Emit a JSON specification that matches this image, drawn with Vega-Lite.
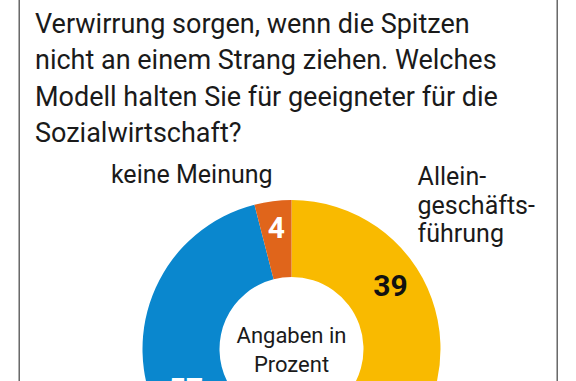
{
  "$schema": "https://vega.github.io/schema/vega-lite/v6.json",
  "width": 538,
  "height": 702,
  "autosize": "none",
  "padding": {"left": 19, "top": -2, "right": 19, "bottom": -319},
  "background": "white",
  "view": {"stroke": "#505050", "strokeWidth": 1.3, "fill": "white"},
  "config": {
    "view": {"stroke": "#505050", "strokeWidth": 1.3, "fill": "white"},
    "font": "Roboto"
  },
  "title": {
    "text": ["Verwirrung sorgen, wenn die Spitzen", "nicht an einem Strang ziehen. Welches", "Modell halten Sie für geeigneter für die", "Sozialwirtschaft?"],
    "anchor": "start",
    "frame": "group",
    "orient": "top",
    "font": "Roboto",
    "fontSize": 27,
    "fontWeight": "normal",
    "color": "#1a1a1a",
    "lineHeight": 36.5,
    "baseline": "alphabetic",
    "offset": 0,
    "dx": 16,
    "dy": 171
  },
  "data": {
    "values": [
      {"kategorie": "Alleingeschäftsführung", "prozent": 39, "reihenfolge": 1},
      {"kategorie": "Doppelspitze", "prozent": 57, "reihenfolge": 2},
      {"kategorie": "keine Meinung", "prozent": 4, "reihenfolge": 3}
    ]
  },
  "layer": [
    {
      "mark": {"type": "arc", "outerRadius": 149, "innerRadius": 72, "xOffset": 3.5},
      "encoding": {
        "theta": {"field": "prozent", "type": "quantitative", "stack": true},
        "order": {"field": "reihenfolge", "type": "quantitative"},
        "color": {
          "field": "kategorie",
          "type": "nominal",
          "scale": {"domain": ["Alleingeschäftsführung", "Doppelspitze", "keine Meinung"], "range": ["#F9BA00", "#0A87CE", "#E0651B"]},
          "legend": null
        }
      }
    },
    {
      "mark": {"type": "text", "radius": 121, "xOffset": 3.5, "font": "Roboto", "fontSize": 30, "fontWeight": "bold", "color": "white", "baseline": "middle", "align": "center"},
      "encoding": {
        "theta": {"field": "prozent", "type": "quantitative", "stack": true},
        "order": {"field": "reihenfolge", "type": "quantitative"},
        "text": {"condition": {"test": "datum.kategorie === 'keine Meinung'", "field": "prozent", "type": "quantitative"}, "value": ""}
      }
    },
    {
      "mark": {"type": "text", "radius": 117, "xOffset": 3.5, "dx": -11, "dy": -22, "font": "Roboto", "fontSize": 30, "fontWeight": "bold", "color": "#111111", "baseline": "middle", "align": "center"},
      "encoding": {
        "theta": {"field": "prozent", "type": "quantitative", "stack": true},
        "order": {"field": "reihenfolge", "type": "quantitative"},
        "text": {"condition": {"test": "datum.kategorie === 'Alleingeschäftsführung'", "field": "prozent", "type": "quantitative"}, "value": ""}
      }
    },
    {
      "mark": {"type": "text", "radius": 114, "xOffset": 3.5, "dx": -4, "dy": -11, "font": "Roboto", "fontSize": 30, "fontWeight": "bold", "color": "white", "baseline": "middle", "align": "center"},
      "encoding": {
        "theta": {"field": "prozent", "type": "quantitative", "stack": true},
        "order": {"field": "reihenfolge", "type": "quantitative"},
        "text": {"condition": {"test": "datum.kategorie === 'Doppelspitze'", "field": "prozent", "type": "quantitative"}, "value": ""}
      }
    },
    {
      "mark": {"type": "text", "radius": 167, "xOffset": 3.5, "dx": 2, "font": "Roboto", "fontSize": 25, "color": "#1a1a1a", "baseline": "alphabetic", "align": "right"},
      "encoding": {
        "theta": {"field": "prozent", "type": "quantitative", "stack": true},
        "order": {"field": "reihenfolge", "type": "quantitative"},
        "text": {"condition": {"test": "datum.kategorie === 'keine Meinung'", "field": "kategorie", "type": "nominal"}, "value": ""}
      }
    },
    {
      "mark": {"type": "text", "radius": 134, "xOffset": 3.5, "dy": -118.6, "font": "Roboto", "fontSize": 25, "lineHeight": 28.5, "color": "#1a1a1a", "baseline": "alphabetic", "align": "left"},
      "encoding": {
        "theta": {"field": "prozent", "type": "quantitative", "stack": true},
        "order": {"field": "reihenfolge", "type": "quantitative"},
        "text": {"condition": {"test": "datum.kategorie === 'Alleingeschäftsführung'", "value": ["Allein-", "geschäfts-", "führung"]}, "value": ""}
      }
    },
    {
      "data": {"values": [{"hinweis": "Angaben in Prozent"}]},
      "mark": {"type": "text", "xOffset": 3.5, "dy": -6, "font": "Roboto", "fontSize": 22, "lineHeight": 29, "color": "#1a1a1a", "baseline": "alphabetic", "align": "center"},
      "encoding": {
        "text": {"value": ["Angaben in", "Prozent"]}
      }
    }
  ]
}
